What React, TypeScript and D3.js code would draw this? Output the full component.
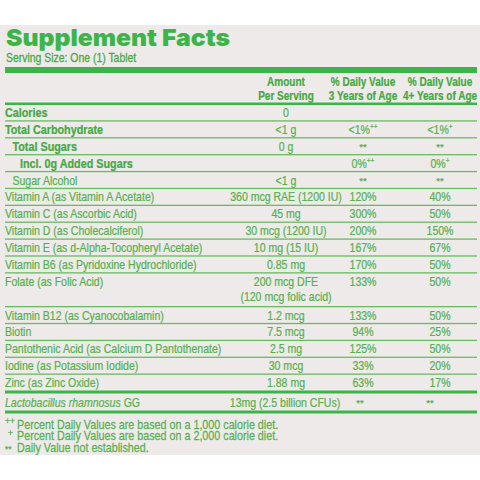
import React from "react";
import * as d3 from "d3";

const nutrients = [
  "Calories",
  "Total Carbohydrate",
  "Total Sugars",
  "Incl. 0g Added Sugars",
  "Sugar Alcohol",
  "Vitamin A (as Vitamin A Acetate)",
  "Vitamin C (as Ascorbic Acid)",
  "Vitamin D (as Cholecalciferol)",
  "Vitamin E (as d-Alpha-Tocopheryl Acetate)",
  "Vitamin B6 (as Pyridoxine Hydrochloride)",
  "Folate (as Folic Acid)",
  "Vitamin B12 (as Cyanocobalamin)",
  "Biotin",
  "Pantothenic Acid (as Calcium D Pantothenate)",
  "Iodine (as Potassium Iodide)",
  "Zinc (as Zinc Oxide)",
];
const amounts = [
  ["0"],
  ["<1 g"],
  ["0 g"],
  [""],
  ["<1 g"],
  ["360 mcg RAE (1200 IU)"],
  ["45 mg"],
  ["30 mcg (1200 IU)"],
  ["10 mg (15 IU)"],
  ["0.85 mg"],
  ["200 mcg DFE", "(120 mcg folic acid)"],
  ["1.2 mcg"],
  ["7.5 mcg"],
  ["2.5 mg"],
  ["30 mcg"],
  ["1.88 mg"],
];
const dv3Values = ["", "<1%", "**", "0%", "**", "120%", "300%", "200%", "167%", "170%", "133%", "133%", "94%", "125%", "33%", "63%"];
const dv3Marks = ["", "++", "", "++", "", "", "", "", "", "", "", "", "", "", "", ""];
const dv4Values = ["", "<1%", "**", "0%", "**", "40%", "50%", "150%", "67%", "50%", "50%", "50%", "25%", "50%", "20%", "17%"];
const dv4Marks = ["", "+", "", "+", "", "", "", "", "", "", "", "", "", "", "", ""];
const boldRows = [true, true, true, true, false, false, false, false, false, false, false, false, false, false, false, false];
const indentLevels = [0, 0, 1, 2, 1, 0, 0, 0, 0, 0, 0, 0, 0, 0, 0, 0];
const rowUnits = [1, 1, 1, 1, 1, 1, 1, 1, 1, 1, 2, 1, 1, 1, 1, 1];

const columns = ["amount", "dv3", "dv4"];
const headerLines = [
  ["Amount", "Per Serving"],
  ["% Daily Value", "3 Years of Age"],
  ["% Daily Value", "4+ Years of Age"],
];
const probioticName = "Lactobacillus rhamnosus";
const probioticSuffix = " GG";
const probioticAmount = "13mg (2.5 billion CFUs)";
const probioticDv = ["**", "**"];
const footMarks = ["++", "+", "**"];
const footTexts = [
  "Percent Daily Values are based on a 1,000 calorie diet.",
  "Percent Daily Values are based on a 2,000 calorie diet.",
  "Daily Value not established.",
];
const title = "Supplement Facts";
const serving = "Serving Size: One (1) Tablet";

const SANS = "'Liberation Sans', Arial, Helvetica, sans-serif";
const TXT = "#57b150";
const BOLD = "#46a843";
const LINE = "#68bc60";
const BAR = "#3db449";

type TProps = {
  x: number;
  y: number;
  sx?: number;
  anchor?: "start" | "middle" | "end";
  size?: number;
  weight?: number;
  fill?: string;
  children?: React.ReactNode;
};

function T({ x, y, sx = 0.81, anchor = "start", size = 13, weight = 400, fill = TXT, children }: TProps) {
  return (
    <g transform={`translate(${x},${y}) scale(${sx},1)`}>
      <text
        x={0}
        y={0}
        textAnchor={anchor}
        fontFamily={SANS}
        fontSize={size}
        fontWeight={weight}
        fill={fill}
        stroke={fill}
        strokeWidth={0.25}
      >
        {children}
      </text>
    </g>
  );
}

export default function App() {
  const W = 480;
  const H = 480;
  const cum = [0];
  rowUnits.forEach((u) => cum.push(cum[cum.length - 1] + u));
  const y = d3.scaleLinear().domain([0, d3.sum(rowUnits)]).range([104, 391]);
  const x = d3.scalePoint().domain(columns).range([286, 440]);
  const indent = d3.scaleLinear().domain([0, 2]).range([5, 20]);
  const left = 5;
  const right = 477;

  const cell = (val: string, mark: string, cx: number, by: number, key: string) => {
    if (!val) return null;
    if (val === "**") {
      return (
        <T key={key} x={cx} y={by - 1} anchor="middle" size={9.5} sx={1}>
          {val}
        </T>
      );
    }
    return (
      <T key={key} x={cx} y={by} anchor="middle">
        {val}
        {mark ? (
          <tspan fontSize={8} dy={-5}>
            {mark}
          </tspan>
        ) : null}
      </T>
    );
  };

  return (
    <svg width={W} height={H} style={{ position: "absolute", left: 0, top: 0 }}>
      <rect x={0} y={0} width={W} height={H} fill="#ffffff" />
      <rect x={0} y={25} width={W} height={430} fill="#eeeaea" />
      <text x={6} y={46} fontFamily="Inter, 'DejaVu Sans', sans-serif" fontWeight={900} fontSize={23.5} fill={BAR} textLength={224} lengthAdjust="spacingAndGlyphs">
        {title}
      </text>
      <T x={6} y={61.5} size={12} sx={0.87} fill={BOLD}>
        {serving}
      </T>
      <rect x={left} y={67} width={right - left} height={6} fill={BAR} />
      {columns.map((c, i) =>
        headerLines[i].map((t, j) => (
          <T key={c + j} x={x(c) as number} y={86 + j * 14} anchor="middle" weight={700} size={13} sx={0.77} fill={BOLD}>
            {t}
          </T>
        ))
      )}
      <rect x={left} y={102.5} width={right - left} height={2.5} fill={BAR} />
      {nutrients.map((n, i) => {
        const top = y(cum[i]);
        const bottom = y(cum[i + 1]);
        const by = top + 13;
        return (
          <g key={n}>
            <T x={indent(indentLevels[i])} y={by} weight={boldRows[i] ? 700 : 400} sx={boldRows[i] ? 0.83 : 0.81} fill={boldRows[i] ? BOLD : TXT}>
              {n}
            </T>
            {amounts[i].map((a, j) => (
              <T key={j} x={x("amount") as number} y={by + j * 15.5} anchor="middle">
                {a}
              </T>
            ))}
            {cell(dv3Values[i], dv3Marks[i], x("dv3") as number, by, "d3")}
            {cell(dv4Values[i], dv4Marks[i], x("dv4") as number, by, "d4")}
            {i < nutrients.length - 1 && <rect x={left} y={bottom - 0.6} width={right - left} height={1.3} fill={LINE} />}
          </g>
        );
      })}
      <rect x={left} y={390.5} width={right - left} height={3} fill={BAR} />
      <T x={5} y={407}>
        <tspan fontStyle="italic">{probioticName}</tspan>
        {probioticSuffix}
      </T>
      <T x={285} y={407} anchor="middle">
        {probioticAmount}
      </T>
      <T x={360} y={406} anchor="middle" size={9.5} sx={1}>
        {probioticDv[0]}
      </T>
      <T x={430} y={406} anchor="middle" size={9.5} sx={1}>
        {probioticDv[1]}
      </T>
      <rect x={left} y={410.5} width={right - left} height={3} fill={BAR} />
      {footTexts.map((t, i) => (
        <g key={i}>
          <T x={i === 1 ? 8 : 5} y={428 + i * 12 - (i < 2 ? 4 : 0)} size={8.5} sx={1}>
            {footMarks[i]}
          </T>
          <T x={17} y={428.5 + i * 11.8} size={12.5} sx={0.86}>
            {t}
          </T>
        </g>
      ))}
    </svg>
  );
}
